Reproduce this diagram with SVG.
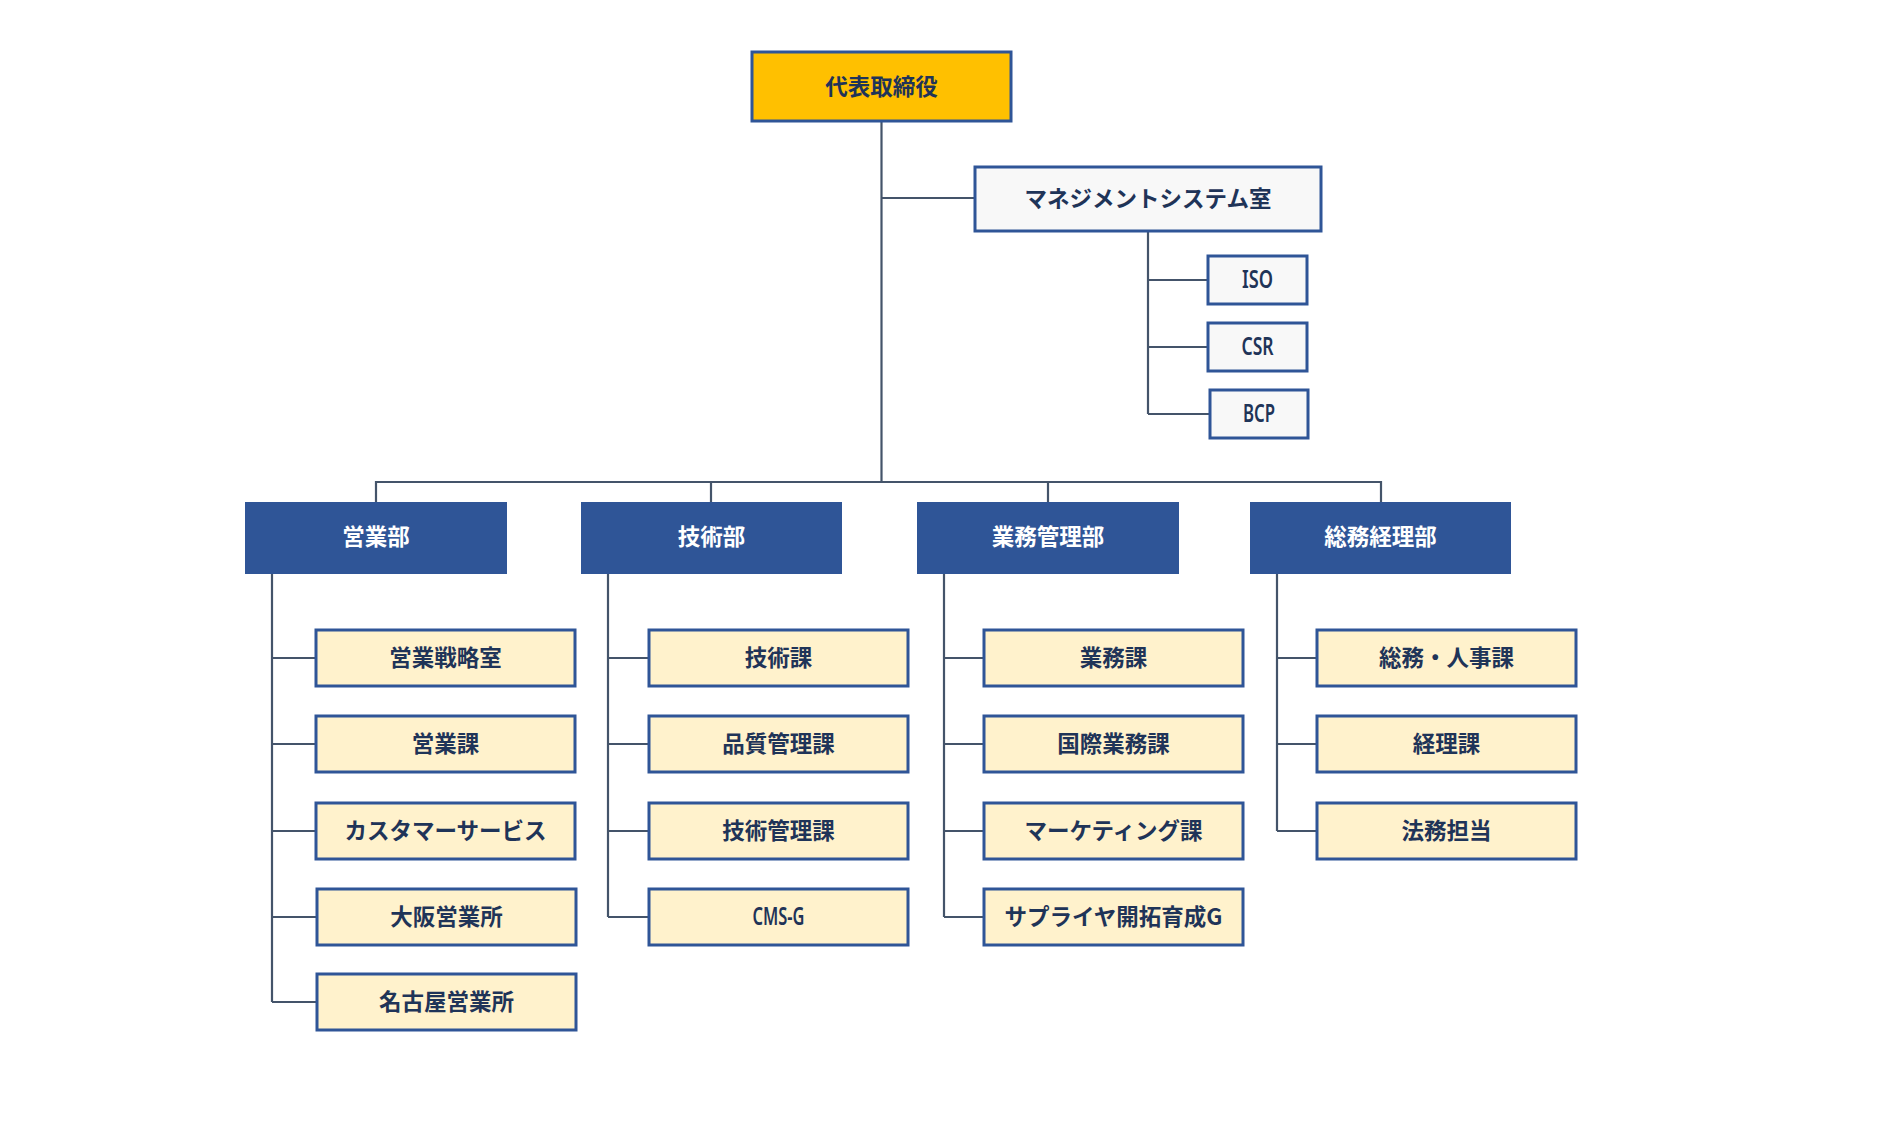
<svg xmlns="http://www.w3.org/2000/svg" width="1880" height="1133" viewBox="0 0 1880 1133">
<style>
.bg{fill:#ffffff}
.conn{fill:none;stroke:#44546A;stroke-width:2.2}
.ceo{fill:#FFC000;stroke:#2F5597;stroke-width:3}
.mgmt{fill:#F8F8F8;stroke:#2F5597;stroke-width:3}
.dept{fill:#2F5597}
.child{fill:#FFF2CC;stroke:#2F5597;stroke-width:3}
.t{font-family:"Noto Sans CJK JP","Noto Sans",sans-serif;font-size:22.5px;font-weight:600;fill:#1F3458;text-anchor:middle;dominant-baseline:central}
.tw{fill:#ffffff}
.tc{font-family:"Noto Sans","DejaVu Sans",sans-serif;font-size:25px;font-weight:600}
</style>
<rect class="bg" x="0" y="0" width="1880" height="1133"/>
<g id="connectors">
<path class="conn" d="M881.5 122V482"/>
<path class="conn" d="M881.5 198H975"/>
<path class="conn" d="M1148 232V414M1148 280H1208M1148 347H1208M1148 414H1210"/>
<path class="conn" d="M376 502V482H1381V502M711 482V502M1048 482V502"/>
<path class="conn" d="M272 574V1002M272 658H316M272 744H316M272 831H316M272 917H316M272 1002H316"/>
<path class="conn" d="M608 574V917M608 658H649M608 744H649M608 831H649M608 917H649"/>
<path class="conn" d="M944 574V917M944 658H984M944 744H984M944 831H984M944 917H984"/>
<path class="conn" d="M1277 574V831M1277 658H1317M1277 744H1317M1277 831H1317"/>
</g>
<g id="ceo"><rect class="ceo" x="752" y="52" width="259" height="69"/><text class="t" x="881.5" y="84.5">代表取締役</text></g>
<g id="mgmt"><rect class="mgmt" x="975" y="167" width="346" height="64"/><text class="t" x="1148" y="196.5">マネジメントシステム室</text></g>
<g id="iso"><rect class="mgmt" x="1208" y="256" width="99" height="48"/><text class="t tc" x="1257.5" y="278" textLength="31" lengthAdjust="spacingAndGlyphs">ISO</text></g>
<g id="csr"><rect class="mgmt" x="1208" y="323" width="99" height="48"/><text class="t tc" x="1257.5" y="345" textLength="32" lengthAdjust="spacingAndGlyphs">CSR</text></g>
<g id="bcp"><rect class="mgmt" x="1210" y="390" width="98" height="48"/><text class="t tc" x="1259" y="412" textLength="32" lengthAdjust="spacingAndGlyphs">BCP</text></g>
<g id="dept-sales"><rect class="dept" x="245" y="502" width="262" height="72"/><text class="t tw" x="376" y="535">営業部</text></g>
<g id="dept-tech"><rect class="dept" x="581" y="502" width="261" height="72"/><text class="t tw" x="711.5" y="535">技術部</text></g>
<g id="dept-ops"><rect class="dept" x="917" y="502" width="262" height="72"/><text class="t tw" x="1048" y="535">業務管理部</text></g>
<g id="dept-admin"><rect class="dept" x="1250" y="502" width="261" height="72"/><text class="t tw" x="1380.5" y="535">総務経理部</text></g>
<g id="sales-1"><rect class="child" x="316" y="630" width="259" height="56"/><text class="t" x="445.5" y="655.5">営業戦略室</text></g>
<g id="sales-2"><rect class="child" x="316" y="716" width="259" height="56"/><text class="t" x="445.5" y="741.5">営業課</text></g>
<g id="sales-3"><rect class="child" x="316" y="803" width="259" height="56"/><text class="t" x="445.5" y="828.5">カスタマーサービス</text></g>
<g id="sales-4"><rect class="child" x="317" y="889" width="259" height="56"/><text class="t" x="446.5" y="914.5">大阪営業所</text></g>
<g id="sales-5"><rect class="child" x="317" y="974" width="259" height="56"/><text class="t" x="446.5" y="999.5">名古屋営業所</text></g>
<g id="tech-1"><rect class="child" x="649" y="630" width="259" height="56"/><text class="t" x="778.5" y="655.5">技術課</text></g>
<g id="tech-2"><rect class="child" x="649" y="716" width="259" height="56"/><text class="t" x="778.5" y="741.5">品質管理課</text></g>
<g id="tech-3"><rect class="child" x="649" y="803" width="259" height="56"/><text class="t" x="778.5" y="828.5">技術管理課</text></g>
<g id="tech-4"><rect class="child" x="649" y="889" width="259" height="56"/><text class="t tc" x="778.5" y="914.5" textLength="52" lengthAdjust="spacingAndGlyphs">CMS-G</text></g>
<g id="ops-1"><rect class="child" x="984" y="630" width="259" height="56"/><text class="t" x="1113.5" y="655.5">業務課</text></g>
<g id="ops-2"><rect class="child" x="984" y="716" width="259" height="56"/><text class="t" x="1113.5" y="741.5">国際業務課</text></g>
<g id="ops-3"><rect class="child" x="984" y="803" width="259" height="56"/><text class="t" x="1113.5" y="828.5">マーケティング課</text></g>
<g id="ops-4"><rect class="child" x="984" y="889" width="259" height="56"/><text class="t" x="1113.5" y="914.5">サプライヤ開拓育成G</text></g>
<g id="admin-1"><rect class="child" x="1317" y="630" width="259" height="56"/><text class="t" x="1446.5" y="655.5">総務・人事課</text></g>
<g id="admin-2"><rect class="child" x="1317" y="716" width="259" height="56"/><text class="t" x="1446.5" y="741.5">経理課</text></g>
<g id="admin-3"><rect class="child" x="1317" y="803" width="259" height="56"/><text class="t" x="1446.5" y="828.5">法務担当</text></g>
</svg>
